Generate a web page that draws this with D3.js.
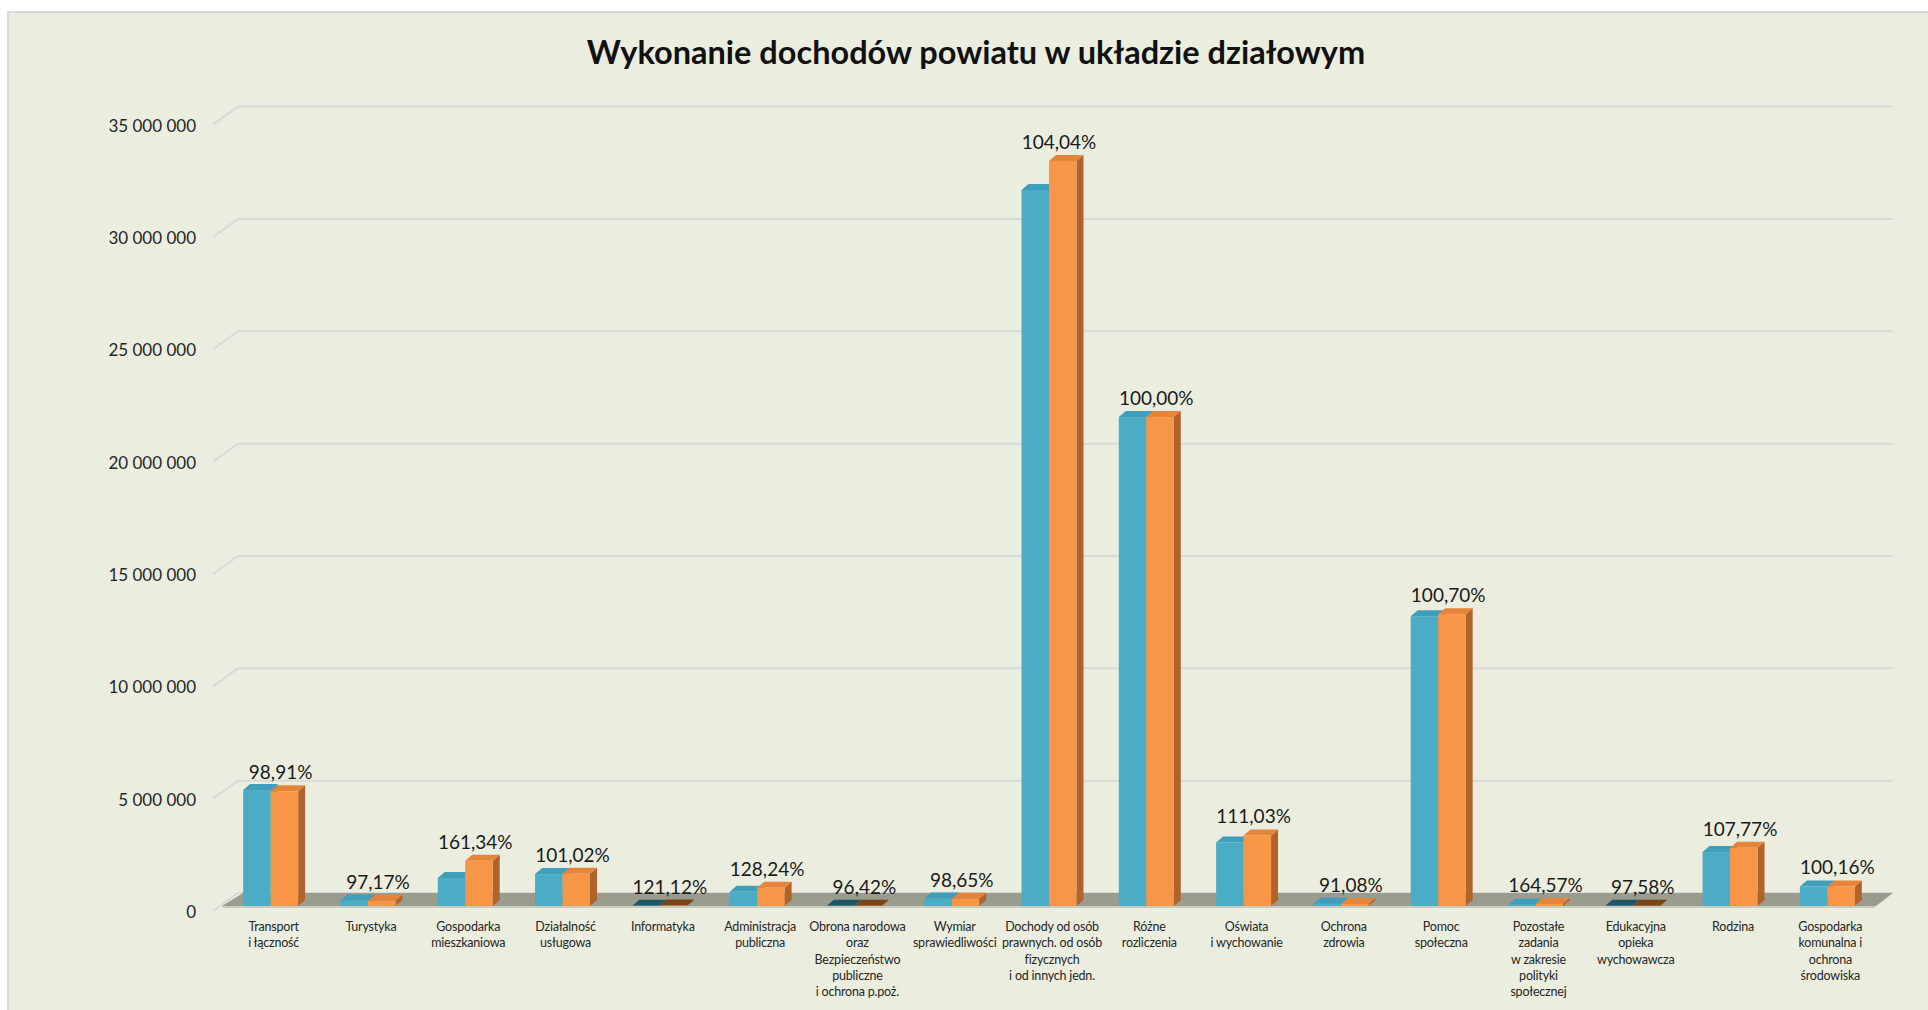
<!DOCTYPE html>
<html>
<head>
<meta charset="utf-8">
<script src="https://cdn.jsdelivr.net/npm/d3@7"></script>
<style>
  html, body { margin: 0; padding: 0; background: #ffffff; }
  svg { display: block; font-family: Lato, "Open Sans", sans-serif; }
</style>
</head>
<body>
<div id="chart"></div>
<script>
// data
var categories = [
  ["Transport", "i łączność"],
  ["Turystyka"],
  ["Gospodarka", "mieszkaniowa"],
  ["Działalność", "usługowa"],
  ["Informatyka"],
  ["Administracja", "publiczna"],
  ["Obrona narodowa", "oraz", "Bezpieczeństwo", "publiczne", "i ochrona p.poż."],
  ["Wymiar", "sprawiedliwości"],
  ["Dochody od osób", "prawnych. od osób", "fizycznych", "i od innych jedn."],
  ["Różne", "rozliczenia"],
  ["Oświata", "i wychowanie"],
  ["Ochrona", "zdrowia"],
  ["Pomoc", "społeczna"],
  ["Pozostałe", "zadania", "w zakresie", "polityki", "społecznej"],
  ["Edukacyjna", "opieka", "wychowawcza"],
  ["Rodzina"],
  ["Gospodarka", "komunalna i", "ochrona", "środowiska"]
];

var planValues = [5160000, 240000, 1250000, 1420000, 15000, 630000, 10000, 330000,
  31870000, 21760000, 2830000, 100000, 12900000, 60000, 8000, 2400000, 870000];

var execValues = [5104000, 233000, 2017000, 1434000, 18200, 808000, 9640, 325500,
  33160000, 21760000, 3142000, 91000, 12990000, 98700, 7800, 2587000, 871400];

var percentLabels = ["98,91%", "97,17%", "161,34%", "101,02%", "121,12%", "128,24%",
  "96,42%", "98,65%", "104,04%", "100,00%", "111,03%", "91,08%", "100,70%",
  "164,57%", "97,58%", "107,77%", "100,16%"];

var yTicks = [0, 5000000, 10000000, 15000000, 20000000, 25000000, 30000000, 35000000];

var seriesColors = [
  {front: "#4BACC6", side: "#3A8BA1", top: "#3F9EB9", dark: "#1F5767"},
  {front: "#F79646", side: "#B0642C", top: "#E5853A", dark: "#7A4517"}
];

function Create_Chart(){

  var width = 1928, height = 1010;

  var svg = d3.select("#chart")
    .append("svg")
      .attr("width", width)
      .attr("height", height);

  // chart area
  svg.append("rect")
      .attr("x", 8).attr("y", 12)
      .attr("width", width).attr("height", height)
      .attr("fill", "#EBEEDE")
      .attr("stroke", "#D9D9D9")
      .attr("stroke-width", 2);

  svg.append("text")
      .attr("x", 976)
      .attr("y", 64)
      .attr("text-anchor", "middle")
      .attr("font-size", 32.5)
      .attr("font-weight", "bold")
      .attr("fill", "#111")
      .text("Wykonanie dochodów powiatu w układzie działowym");

  var floorDY = -13;

  var y = d3.scaleLinear()
      .domain([0, 35000000])
      .range([906, 119.6]);

  var x0 = d3.scaleBand()
      .domain(d3.range(categories.length))
      .range([222, 1876])
      .paddingInner(0.435)
      .paddingOuter(0.2175);

  var x1 = d3.scaleBand()
      .domain([0, 1])
      .range([0, x0.bandwidth()]);

  var fmt = d3.formatLocale({decimal: ",", thousands: " ", grouping: [3], currency: ["", ""]}).format(",d");

  // gridlines on back wall + side wall
  var grid = svg.append("g");
  yTicks.forEach(function(t){
    grid.append("path")
        .attr("d", "M213," + (y(t) + 5) + "L238," + (y(t) + floorDY) + "L1893," + (y(t) + floorDY))
        .attr("fill", "none")
        .attr("stroke", "#D9D9D9")
        .attr("stroke-width", 2);
    grid.append("text")
        .attr("x", 196)
        .attr("y", y(t) + 12)
        .attr("text-anchor", "end")
        .attr("font-size", 17)
        .attr("fill", "#262626")
        .text(fmt(t));
  });

  // floor
  svg.append("path")
      .attr("d", "M222,906L243,893L1893,893L1876,906Z")
      .attr("fill", "#9A9C8E");
  svg.append("path")
      .attr("d", "M222,906L1876,906L1874,908L223,908Z")
      .attr("fill", "#C9CBBE");

  // bars
  var bw = x1.bandwidth(), dx = 7, dy = -6;
  var series = [planValues, execValues];
  var bars = svg.append("g");

  series.forEach(function(vals, s){
    var c = seriesColors[s];
    vals.forEach(function(v, i){
      var bx = x0(i) + x1(s), top = y(v), bot = y(0);
      var g = bars.append("g");
      g.append("path")
          .attr("d", "M" + (bx + bw) + "," + top + "l" + dx + "," + dy + "L" + (bx + bw + dx) + "," + (bot + dy) + "L" + (bx + bw) + "," + bot + "Z")
          .attr("fill", c.side);
      g.append("path")
          .attr("d", "M" + bx + "," + top + "l" + dx + "," + dy + "l" + bw + ",0l" + (-dx) + "," + (-dy) + "Z")
          .attr("fill", v < 50000 ? c.dark : c.top);
      g.append("rect")
          .attr("x", bx)
          .attr("y", top)
          .attr("width", bw)
          .attr("height", bot - top)
          .attr("fill", c.front);
    });
  });

  // percent labels over the second series
  svg.append("g")
    .selectAll("text")
    .data(percentLabels)
    .enter().append("text")
      .attr("x", function(d, i){ return x0(i) + x0.bandwidth() / 2 + 10; })
      .attr("y", function(d, i){ return y(execValues[i]) - 12; })
      .attr("text-anchor", "middle")
      .attr("font-size", 19)
      .attr("fill", "#1A1A1A")
      .text(function(d){ return d; });

  // category labels
  var cat = svg.append("g")
    .selectAll("text")
    .data(categories)
    .enter().append("text")
      .attr("text-anchor", "middle")
      .attr("font-size", 12.5)
      .attr("letter-spacing", -0.2)
      .attr("fill", "#262626");

  cat.selectAll("tspan")
    .data(function(d, i){ return d.map(function(line){ return {line: line, i: i}; }); })
    .enter().append("tspan")
      .attr("x", function(d){ return x0(d.i) + x0.bandwidth() / 2 + 3; })
      .attr("y", function(d, j){ return 931 + j * 16.3; })
      .text(function(d){ return d.line; });
}

Create_Chart();
</script>
</body>
</html>
